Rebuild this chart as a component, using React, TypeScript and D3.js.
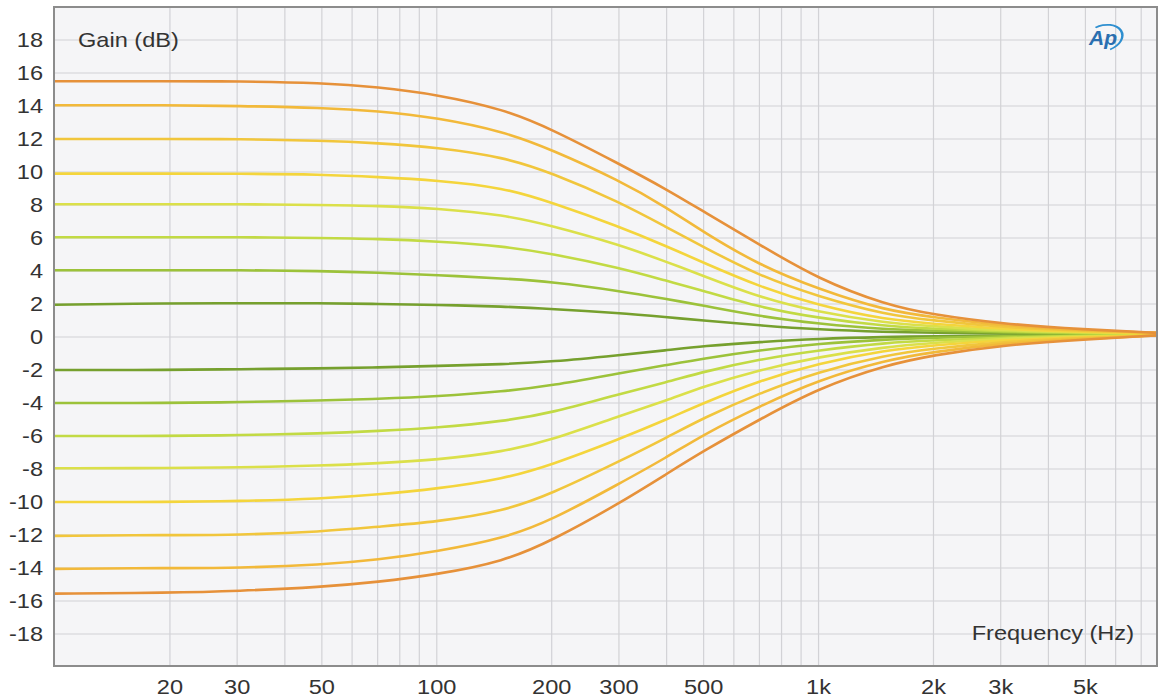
import React, { useEffect, useRef } from "react";
import * as d3 from "d3";

const freqs = [10, 20, 30, 50, 70, 100, 150, 200, 300, 400, 500, 700, 1000, 1500, 2000, 3000, 5000, 7700];

// boost curves (dB)
const boost15 = [15.5, 15.5, 15.5, 15.4, 15.15, 14.7, 13.8, 12.6, 10.5, 8.95, 7.6, 5.6, 3.5, 1.95, 1.35, 0.8, 0.45, 0.25];
const boost14 = [14.05, 14.05, 14.0, 13.9, 13.7, 13.3, 12.45, 11.35, 9.5, 7.85, 6.35, 4.35, 2.9, 1.6, 1.2, 0.7, 0.4, 0.25];
const boost12 = [12.0, 12.0, 12.0, 11.9, 11.75, 11.5, 10.9, 9.95, 8.2, 6.65, 5.45, 3.7, 2.45, 1.35, 1.0, 0.6, 0.35, 0.25];
const boost10 = [9.9, 9.9, 9.9, 9.85, 9.7, 9.5, 9.05, 8.15, 6.7, 5.5, 4.5, 3.05, 1.9, 1.05, 0.8, 0.5, 0.3, 0.22];
const boost8 = [8.05, 8.05, 8.05, 8.0, 7.95, 7.8, 7.4, 6.75, 5.6, 4.55, 3.7, 2.4, 1.5, 0.85, 0.65, 0.4, 0.28, 0.2];
const boost6 = [6.05, 6.05, 6.05, 6.0, 5.95, 5.8, 5.5, 5.05, 4.2, 3.4, 2.8, 1.8, 1.15, 0.65, 0.5, 0.35, 0.25, 0.2];
const boost4 = [4.05, 4.05, 4.05, 4.0, 3.9, 3.75, 3.55, 3.35, 2.8, 2.3, 1.9, 1.25, 0.8, 0.45, 0.38, 0.28, 0.22, 0.2];
const boost2 = [1.95, 2.05, 2.05, 2.05, 2.0, 1.95, 1.85, 1.7, 1.45, 1.2, 1.0, 0.7, 0.45, 0.3, 0.25, 0.22, 0.2, 0.2];

// cut curves (dB)
const cut2 = [-2.0, -2.0, -1.95, -1.9, -1.85, -1.75, -1.65, -1.5, -1.1, -0.8, -0.55, -0.3, -0.1, 0.0, 0.05, 0.1, 0.12, 0.15];
const cut4 = [-4.0, -4.0, -3.95, -3.85, -3.75, -3.6, -3.3, -2.95, -2.2, -1.7, -1.3, -0.8, -0.4, -0.15, -0.05, 0.05, 0.1, 0.12];
const cut6 = [-6.0, -6.0, -5.95, -5.85, -5.7, -5.5, -5.1, -4.6, -3.45, -2.75, -2.1, -1.35, -0.8, -0.35, -0.2, -0.05, 0.1, 0.12];
const cut8 = [-7.95, -7.95, -7.9, -7.8, -7.65, -7.45, -6.95, -6.25, -4.8, -3.85, -3.0, -2.0, -1.2, -0.6, -0.35, -0.1, 0.05, 0.1];
const cut10 = [-10.0, -10.0, -9.95, -9.8, -9.55, -9.2, -8.6, -7.75, -6.2, -5.0, -4.0, -2.65, -1.6, -0.8, -0.5, -0.2, 0.0, 0.1];
const cut12 = [-12.05, -12.0, -12.0, -11.8, -11.5, -11.2, -10.55, -9.5, -7.55, -6.1, -4.9, -3.4, -2.1, -1.1, -0.7, -0.3, -0.05, 0.1];
const cut14 = [-14.05, -14.0, -14.0, -13.8, -13.5, -13.0, -12.2, -11.1, -8.9, -7.3, -5.9, -4.2, -2.6, -1.4, -0.9, -0.4, -0.1, 0.1];
const cut15 = [-15.55, -15.5, -15.4, -15.15, -14.85, -14.4, -13.6, -12.35, -10.1, -8.3, -6.9, -5.0, -3.1, -1.7, -1.1, -0.5, -0.15, 0.1];

const yTicks = [18, 16, 14, 12, 10, 8, 6, 4, 2, 0, -2, -4, -6, -8, -10, -12, -14, -16, -18];
const xTicks = [20, 30, 50, 100, 200, 300, 500, 1000, 2000, 3000, 5000];
const xTickLabels = ["20", "30", "50", "100", "200", "300", "500", "1k", "2k", "3k", "5k"];

const curves = [
  { vals: boost2, color: "#76a02e" },
  { vals: cut2, color: "#76a02e" },
  { vals: boost4, color: "#9cc23a" },
  { vals: cut4, color: "#9cc23a" },
  { vals: boost6, color: "#c2da44" },
  { vals: cut6, color: "#c2da44" },
  { vals: boost8, color: "#dbe04a" },
  { vals: cut8, color: "#dbe04a" },
  { vals: boost10, color: "#f4d53c" },
  { vals: cut10, color: "#f4d53c" },
  { vals: boost12, color: "#f1c63c" },
  { vals: cut12, color: "#f1c63c" },
  { vals: boost14, color: "#f2b93a" },
  { vals: cut14, color: "#f2b93a" },
  { vals: boost15, color: "#e6913a" },
  { vals: cut15, color: "#e6913a" },
];

const W = 1162;
const H = 698;
const left = 54;
const right = 1157;
const top = 7;
const bottom = 666;
const FONT = "'Liberation Sans', Arial, Helvetica, sans-serif";
const FS = 20.5;
const SX = 1.15;

export default function App() {
  const ref = useRef<SVGSVGElement>(null);

  useEffect(() => {
    const svg = d3.select(ref.current);
    svg.selectAll("*").remove();

    const x = d3.scaleLog().domain([10, 7700]).range([55, right]);
    const y = d3.scaleLinear().domain([-20, 20]).range([667, 7]);

    svg.append("rect").attr("width", W).attr("height", H).attr("fill", "#ffffff");

    svg
      .append("rect")
      .attr("x", left)
      .attr("y", top)
      .attr("width", right - left)
      .attr("height", bottom - top)
      .attr("fill", "#f5f5f7");

    svg
      .append("defs")
      .append("clipPath")
      .attr("id", "plot-clip")
      .append("rect")
      .attr("x", left)
      .attr("y", top)
      .attr("width", right - left)
      .attr("height", bottom - top);

    // grid
    const grid = svg.append("g");
    const vLines: number[] = [];
    for (let dec = 10; dec <= 1000; dec *= 10) {
      for (let m = 1; m <= 9; m++) {
        const f = dec * m;
        if (f > 10 && f < 7700) vLines.push(f);
      }
    }
    grid
      .selectAll("line.v")
      .data(vLines)
      .join("line")
      .attr("x1", (d) => x(d))
      .attr("x2", (d) => x(d))
      .attr("y1", top)
      .attr("y2", bottom)
      .attr("stroke", "#d2d2d6")
      .attr("stroke-width", 1.2);

    grid
      .selectAll("line.h")
      .data(yTicks)
      .join("line")
      .attr("x1", left)
      .attr("x2", right)
      .attr("y1", (d) => y(d))
      .attr("y2", (d) => y(d))
      .attr("stroke", "#d2d2d6")
      .attr("stroke-width", 1.2);

    // curves
    const line = d3
      .line<number>()
      .x((_, i) => x(freqs[i]))
      .y((d) => y(d))
      .curve(d3.curveBasis);

    svg
      .append("g")
      .attr("clip-path", "url(#plot-clip)")
      .selectAll("path")
      .data(curves)
      .join("path")
      .attr("d", (c) => line(c.vals))
      .attr("fill", "none")
      .attr("stroke", (c) => c.color)
      .attr("stroke-width", 2.6)
      .attr("stroke-linejoin", "round")
      .attr("stroke-linecap", "round");

    // border
    svg
      .append("rect")
      .attr("x", left)
      .attr("y", top)
      .attr("width", right - left)
      .attr("height", bottom - top)
      .attr("fill", "none")
      .attr("stroke", "#8c8c8c")
      .attr("stroke-width", 2);

    // y tick labels
    svg
      .append("g")
      .selectAll("text")
      .data(yTicks)
      .join("text")
      .attr("transform", (d) => `translate(43,${y(d)}) scale(${SX},1)`)
      .attr("text-anchor", "end")
      .attr("dy", "0.35em")
      .attr("font-family", FONT)
      .attr("font-size", FS)
      .attr("fill", "#333")
      .text((d) => String(d));

    // x tick labels
    svg
      .append("g")
      .selectAll("text")
      .data(xTicks)
      .join("text")
      .attr("transform", (d) => `translate(${x(d)},694) scale(${SX},1)`)
      .attr("text-anchor", "middle")
      .attr("font-family", FONT)
      .attr("font-size", FS)
      .attr("fill", "#333")
      .text((_, i) => xTickLabels[i]);

    // axis titles
    svg
      .append("text")
      .attr("transform", `translate(78,47) scale(${SX},1)`)
      .attr("font-family", FONT)
      .attr("font-size", FS)
      .attr("fill", "#333")
      .text("Gain (dB)");

    svg
      .append("text")
      .attr("transform", `translate(1134,640) scale(${SX},1)`)
      .attr("text-anchor", "end")
      .attr("font-family", FONT)
      .attr("font-size", FS)
      .attr("fill", "#333")
      .text("Frequency (Hz)");

    // AP logo
    const logo = svg.append("g").attr("transform", "translate(1104,38)");
    logo
      .append("path")
      .attr("d", d3.arc()({ innerRadius: 14, outerRadius: 16, startAngle: -0.3, endAngle: Math.PI * 0.95 }) as string)
      .attr("transform", "rotate(-15) scale(1.25,0.85)")
      .attr("fill", "#2e8fd0");
    logo
      .append("text")
      .attr("x", -1)
      .attr("y", 7)
      .attr("text-anchor", "middle")
      .attr("font-family", FONT)
      .attr("font-style", "italic")
      .attr("font-weight", "bold")
      .attr("font-size", 21)
      .attr("fill", "#2a6fb0")
      .text("Ap");
  }, []);

  return (
    <div style={{ position: "absolute", left: 0, top: 0 }}>
      <svg ref={ref} width={W} height={H} style={{ display: "block" }} />
    </div>
  );
}
